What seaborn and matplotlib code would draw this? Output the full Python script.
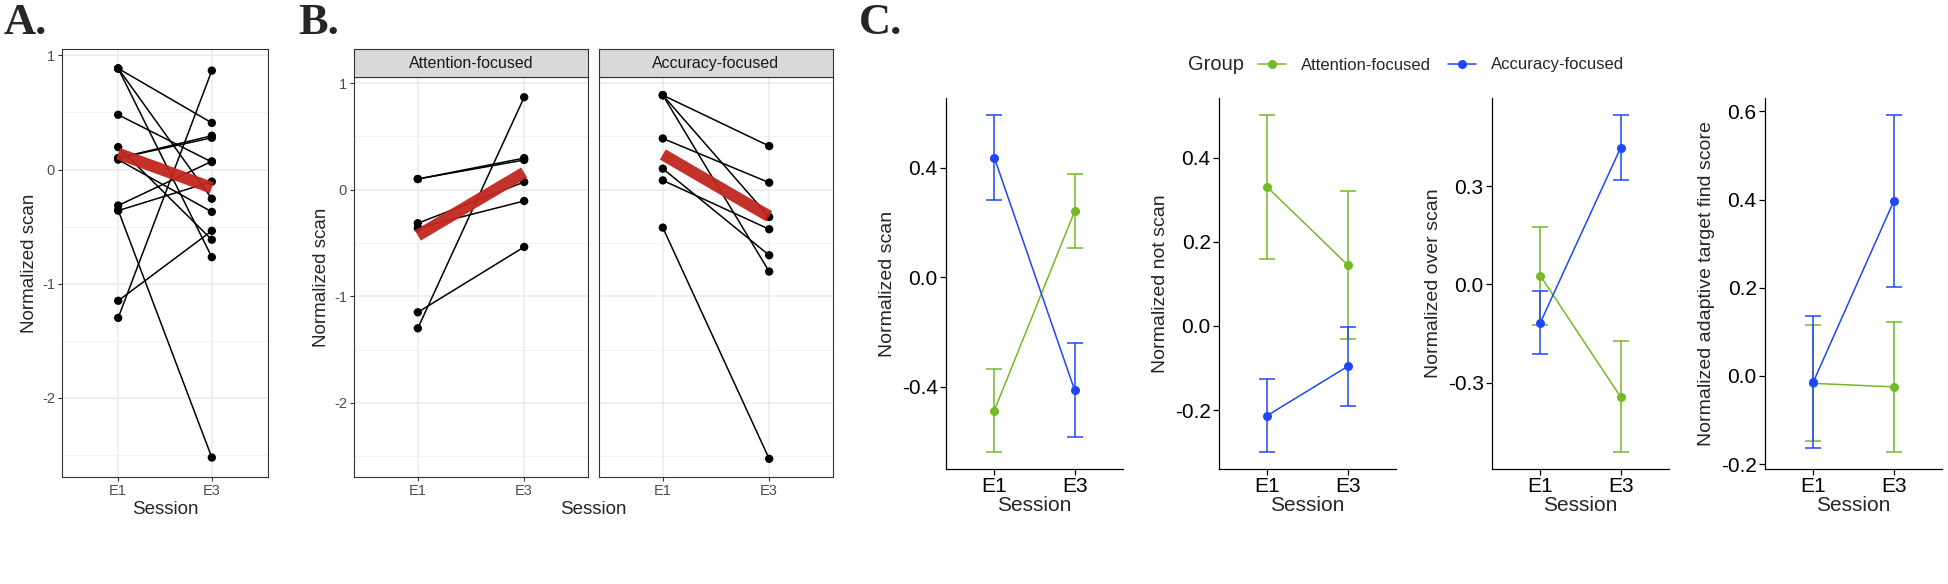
import numpy as np
import pandas as pd
import matplotlib
matplotlib.use("Agg")
import matplotlib.pyplot as plt
import seaborn as sns
from matplotlib.lines import Line2D

# --- data -----------------------------------------------------------------
sessions = ["E1", "E3"]
groups = ["Attention-focused", "Accuracy-focused"]

# normalized scan per subject (panels A and B)
att_e1 = [0.10, 0.10, -0.315, -0.36, -1.15, -1.30]
att_e3 = [0.296, 0.278, 0.072, -0.106, -0.537, 0.867]
acc_e1 = [0.886, 0.886, 0.886, 0.48, 0.197, 0.087, -0.356]
acc_e3 = [0.409, -0.256, -0.768, 0.066, -0.615, -0.371, -2.524]

# thick red fit lines (E1, E3)
fit_all = [0.14, -0.16]
fit_att = [-0.43, 0.16]
fit_acc = [0.33, -0.25]

# panel C: group means and error bar ends, one row per measure, [E1, E3]
measures = ["scan", "not scan", "over scan", "adaptive target find score"]
att_mean = [[-0.488, 0.242], [0.330, 0.145], [0.027, -0.344], [-0.017, -0.025]]
att_lo = [[-0.640, 0.108], [0.160, -0.031], [-0.123, -0.512], [-0.147, -0.173]]
att_hi = [[-0.336, 0.377], [0.502, 0.322], [0.177, -0.174], [0.116, 0.123]]
acc_mean = [[0.438, -0.414], [-0.213, -0.096], [-0.117, 0.418], [-0.014, 0.396]]
acc_lo = [[0.282, -0.583], [-0.300, -0.190], [-0.212, 0.320], [-0.164, 0.202]]
acc_hi = [[0.594, -0.242], [-0.126, -0.002], [-0.021, 0.518], [0.136, 0.592]]
c_ticks = [[-0.4, 0.0, 0.4], [-0.2, 0.0, 0.2, 0.4], [-0.3, 0.0, 0.3],
           [-0.2, 0.0, 0.2, 0.4, 0.6]]

green = "#74b927"
blue = "#1f46fb"
red = "#c0281f"

# --- tidy tables ------------------------------------------------------------
rows = []
for g, e1, e3 in [(groups[0], att_e1, att_e3), (groups[1], acc_e1, acc_e3)]:
    for i, (a, b) in enumerate(zip(e1, e3)):
        rows.append({"subject": f"{g[:3]}{i}", "group": g, "x": 1, "value": a})
        rows.append({"subject": f"{g[:3]}{i}", "group": g, "x": 2, "value": b})
subj = pd.DataFrame(rows)

sns.set_style("white")
plt.rcParams["font.family"] = ["Liberation Sans", "DejaVu Sans"]
plt.rcParams["axes.unicode_minus"] = False

W, H = 1948, 584
fig = plt.figure(figsize=(W / 100, H / 100), dpi=100)


def box(l, t, r, b):
    return [l / W, 1 - b / H, (r - l) / W, (b - t) / H]


def bw_style(ax, show_y=True):
    ax.set_facecolor("white")
    for s in ax.spines.values():
        s.set_visible(True)
        s.set_color("#333333")
        s.set_linewidth(0.8)
    ax.set_xlim(0.4, 2.6)
    ax.set_xticks([1, 2])
    ax.set_xticklabels(sessions)
    ax.set_yticks([-2, -1, 0, 1])
    ax.set_yticks([-2.5, -1.5, -0.5, 0.5], minor=True)
    ax.grid(True, which="major", color="#ebebeb", lw=1.1, zorder=0)
    ax.grid(True, which="minor", axis="y", color="#f2f2f2", lw=0.7, zorder=0)
    ax.set_axisbelow(True)
    ax.tick_params(axis="both", which="major", direction="out", length=3,
                   width=0.8, color="#333333", labelcolor="#4d4d4d",
                   labelsize=10.5, pad=2, left=show_y, labelleft=show_y,
                   bottom=True)
    ax.tick_params(which="minor", length=0)


def subjects(ax, df, fit):
    sns.lineplot(data=df, x="x", y="value", units="subject", estimator=None,
                 color="black", lw=1.1, ax=ax, legend=False, zorder=2)
    sns.scatterplot(data=df, x="x", y="value", color="black", s=36,
                    edgecolor="none", ax=ax, legend=False, zorder=3)
    fit_df = pd.DataFrame({"x": [1, 2], "value": fit})
    sns.lineplot(data=fit_df, x="x", y="value", color=red, lw=8.5, alpha=0.95,
                 ax=ax, legend=False, zorder=4, solid_capstyle="butt")
    ax.set_xlabel("")
    ax.set_ylabel("")


# --- panel A ------------------------------------------------------------------
axA = fig.add_axes(box(62, 49, 268, 477))
subjects(axA, subj, fit_all)
bw_style(axA)
ylim = (-2.524 - 0.05 * 3.41, 0.886 + 0.05 * 3.41)
axA.set_ylim(ylim)
axA.set_ylabel("Normalized scan", fontsize=13.5, labelpad=3)
axA.set_xlabel("Session", fontsize=13.5, labelpad=2)

# --- panel B ------------------------------------------------------------------
facet_x = [(354, 588), (599, 833)]
for k, g in enumerate(groups):
    l, r = facet_x[k]
    ax = fig.add_axes(box(l, 77, r, 477))
    subjects(ax, subj[subj["group"] == g], [fit_att, fit_acc][k])
    bw_style(ax, show_y=(k == 0))
    ax.set_ylim(ylim)
    if k == 0:
        ax.set_ylabel("Normalized scan", fontsize=13.5, labelpad=3)
    strip = fig.add_axes(box(l, 49, r, 77))
    strip.set_facecolor("#d9d9d9")
    strip.set_xticks([])
    strip.set_yticks([])
    for s in strip.spines.values():
        s.set_visible(True)
        s.set_color("#333333")
        s.set_linewidth(0.8)
    strip.text(0.5, 0.48, g, ha="center", va="center", fontsize=11.5,
               color="#1a1a1a", transform=strip.transAxes)
fig.text(593 / W, 1 - 510 / H, "Session", ha="center", va="center",
         fontsize=13.5)

# --- panel C ------------------------------------------------------------------
c_left = [946, 1219, 1492, 1765]
for m, name in enumerate(measures):
    ax = fig.add_axes(box(c_left[m], 98, c_left[m] + 177, 469))
    for g, col, mean, lo, hi in [(groups[0], green, att_mean, att_lo, att_hi),
                                 (groups[1], blue, acc_mean, acc_lo, acc_hi)]:
        df = pd.DataFrame({"x": [1, 2], "mean": mean[m]})
        sns.lineplot(data=df, x="x", y="mean", color=col, lw=1.1, marker="o",
                     markersize=6.5, markeredgewidth=0, ax=ax, legend=False)
        mu = np.array(mean[m])
        err = np.vstack([mu - np.array(lo[m]), np.array(hi[m]) - mu])
        ax.errorbar(df["x"], mu, yerr=err, fmt="none", ecolor=col,
                    elinewidth=1.1, capsize=5.5, capthick=1.1)
    ax.set_xlim(0.4, 2.6)
    ax.set_xticks([1, 2])
    ax.set_xticklabels(sessions)
    ax.set_yticks(c_ticks[m])
    ax.set_yticklabels([f"{t:.1f}" for t in c_ticks[m]])
    sns.despine(ax=ax)
    for s in ["left", "bottom"]:
        ax.spines[s].set_color("black")
        ax.spines[s].set_linewidth(0.9)
    ax.tick_params(axis="both", direction="out", length=4, width=0.9,
                   color="black", labelcolor="black", labelsize=15, pad=2,
                   left=True, bottom=True)
    ax.set_xlabel("Session", fontsize=15, labelpad=0)
    ax.set_ylabel("Normalized " + name, fontsize=14, labelpad=4)

# legend for panel C
fig.text(1188 / W, 1 - 65 / H, "Group", ha="left", va="center", fontsize=14.5)
handles = [Line2D([0], [0], color=c, lw=1.1, marker="o", markersize=6.5,
                  markeredgewidth=0) for c in (green, blue)]
fig.legend(handles, groups, loc="center left",
           bbox_to_anchor=(1258 / W, 1 - 65 / H), ncol=2, frameon=False,
           fontsize=12, handlelength=1.7, handletextpad=0.9,
           columnspacing=1.0, borderpad=0, borderaxespad=0)

# panel letters
for x, lab in [(4, "A."), (298, "B."), (859, "C.")]:
    fig.text(x / W, 1 - 34 / H, lab, ha="left", va="baseline",
             fontsize=32, fontweight="bold", family="Liberation Serif")

fig.savefig("out.png", dpi=100)
